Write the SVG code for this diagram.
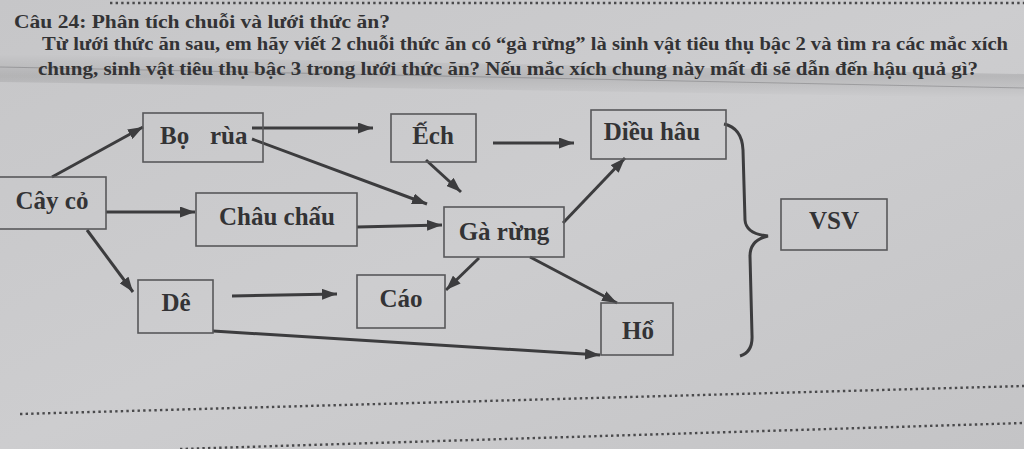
<svg xmlns="http://www.w3.org/2000/svg" width="1024" height="449" viewBox="0 0 1024 449">
<defs>
<linearGradient id="paper" x1="0" y1="0" x2="1" y2="1">
<stop offset="0" stop-color="#c6c6c8"/>
<stop offset="0.5" stop-color="#cdcdcf"/>
<stop offset="1" stop-color="#c4c4c6"/>
</linearGradient>
<linearGradient id="fold" x1="0" y1="0" x2="0" y2="1">
<stop offset="0" stop-color="#000" stop-opacity="0"/>
<stop offset="0.5" stop-color="#000" stop-opacity="0.10"/>
<stop offset="1" stop-color="#000" stop-opacity="0"/>
</linearGradient>
<marker id="ah" viewBox="0 0 15 11" refX="15" refY="5.5" markerWidth="15" markerHeight="11" markerUnits="userSpaceOnUse" orient="auto">
<path d="M0,0 L15,5.5 L0,11 z" fill="#3c3c3e"/>
</marker>
<style>
.t{font-family:"Liberation Serif","DejaVu Serif",serif;font-weight:bold;fill:#333335}
.h{font-size:18px}
.n{font-size:25px}
.box{fill:none;stroke:#58585a;stroke-width:1.6}
.c{fill:none;stroke:#3c3c3e;stroke-width:3}
.dot{fill:none;stroke:#4a4a4c;stroke-width:2.4;stroke-dasharray:2.4 3.2}
</style>
</defs>
<rect width="1024" height="449" fill="url(#paper)"/>
<path d="M0,54 L1024,74 L1024,98 L0,82 z" fill="url(#fold)"/>
<path d="M0,67 L1024,88" stroke="#5a5a5c" stroke-width="1" stroke-opacity="0.35" fill="none"/>
<path class="dot" d="M110,3 L1024,3"/>
<path class="dot" d="M20,414 L1024,386"/>
<path class="dot" d="M180,449 L1024,423"/>

<g id="header">
<text class="t h" x="14" y="28" textLength="376" lengthAdjust="spacingAndGlyphs">Câu 24: Phân tích chuỗi và lưới thức ăn?</text>
<text class="t h" x="42" y="50" textLength="966" lengthAdjust="spacingAndGlyphs">Từ lưới thức ăn sau, em hãy viết 2 chuỗi thức ăn có “gà rừng” là sinh vật tiêu thụ bậc 2 và tìm ra các mắc xích</text>
<text class="t h" x="38" y="75" textLength="940" lengthAdjust="spacingAndGlyphs">chung, sinh vật tiêu thụ bậc 3  trong lưới thức ăn? Nếu mắc xích chung này mất đi sẽ dẫn đến hậu quả gì?</text>
</g>

<g id="connectors">
<line class="c" x1="52" y1="177" x2="143" y2="127" marker-end="url(#ah)"/>
<line class="c" x1="252" y1="128" x2="373" y2="128" marker-end="url(#ah)"/>
<line class="c" x1="252" y1="139" x2="427" y2="204" marker-end="url(#ah)"/>
<line class="c" x1="426" y1="160" x2="461" y2="192" marker-end="url(#ah)"/>
<line class="c" x1="106" y1="212" x2="195" y2="212" marker-end="url(#ah)"/>
<line class="c" x1="357" y1="227" x2="442" y2="225" marker-end="url(#ah)"/>
<line class="c" x1="87" y1="230" x2="133" y2="292" marker-end="url(#ah)"/>
<line class="c" x1="232" y1="296" x2="337" y2="294" marker-end="url(#ah)"/>
<line class="c" x1="479" y1="258" x2="446" y2="290" marker-end="url(#ah)"/>
<line class="c" x1="213" y1="331" x2="600" y2="355" marker-end="url(#ah)"/>
<line class="c" x1="493" y1="143" x2="574" y2="143" marker-end="url(#ah)"/>
<line class="c" x1="563" y1="223" x2="625" y2="158" marker-end="url(#ah)"/>
<line class="c" x1="530" y1="257" x2="617" y2="303" marker-end="url(#ah)"/>
<path class="c" d="M724,124 Q742,128 743,150 L745,220 Q746,234 768,236 Q750,240 750,256 L752,335 Q753,352 740,356"/>
</g>

<g id="bo-rua"><rect class="box" x="143" y="113" width="120" height="49"/><text class="t n" y="144"><tspan x="160">Bọ</tspan><tspan x="210">rùa</tspan></text></g>
<g id="ech"><rect class="box" x="391" y="114" width="85" height="48"/><text class="t n" x="433" y="144" text-anchor="middle">Ếch</text></g>
<g id="dieu-hau"><rect class="box" x="591" y="110" width="135" height="49"/><text class="t n" x="652" y="140" text-anchor="middle">Diều hâu</text></g>
<g id="cay-co"><rect class="box" x="-5" y="177" width="111" height="52"/><text class="t n" x="52" y="209" text-anchor="middle">Cây cỏ</text></g>
<g id="chau-chau"><rect class="box" x="196" y="193" width="161" height="53"/><text class="t n" x="277" y="225" text-anchor="middle">Châu chấu</text></g>
<g id="ga-rung"><rect class="box" x="444" y="207" width="120" height="50"/><text class="t n" x="504" y="240" text-anchor="middle">Gà rừng</text></g>
<g id="de"><rect class="box" x="138" y="280" width="75" height="53"/><text class="t n" x="176" y="311" text-anchor="middle">Dê</text></g>
<g id="cao"><rect class="box" x="357" y="275" width="88" height="53"/><text class="t n" x="401" y="307" text-anchor="middle">Cáo</text></g>
<g id="ho"><rect class="box" x="601" y="303" width="72" height="52"/><text class="t n" x="638" y="339" text-anchor="middle">Hổ</text></g>
<g id="vsv"><rect class="box" x="781" y="199" width="106" height="51"/><text class="t n" x="834" y="229" text-anchor="middle">VSV</text></g>
</svg>
